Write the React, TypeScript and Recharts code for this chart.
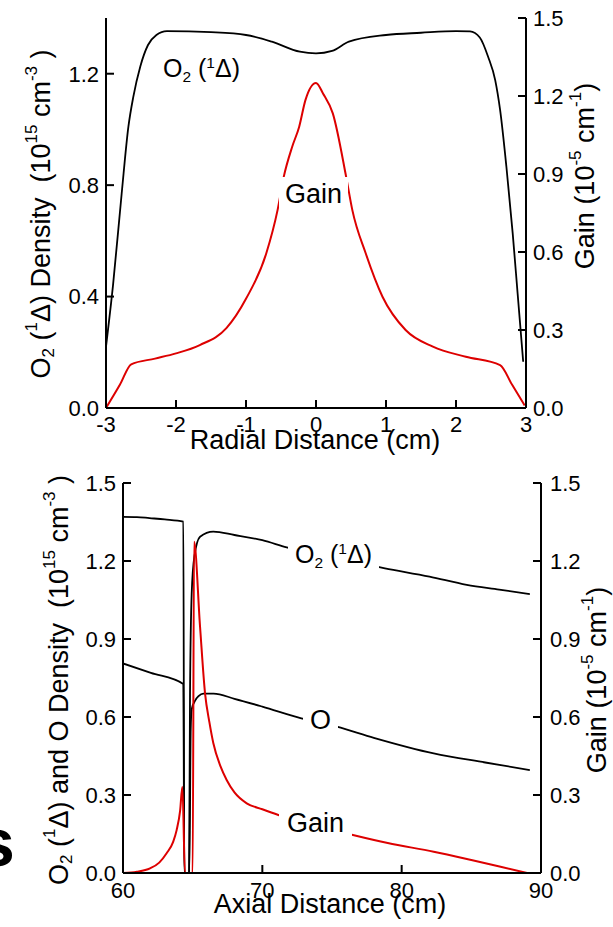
import { LineChart, Line, XAxis, YAxis } from "recharts";

const FONT = '"Liberation Sans", Arial, Helvetica, sans-serif';
const RED = "#dd0000";

// top panel: radial profile
const radialO2X = [-3, -2.9, -2.776, -2.68, -2.61, -2.51, -2.4, -2.28, -2.13, -1.5, -1.0, -0.63, -0.23, 0, 0.23, 0.47, 1.0, 1.5, 2.0, 2.2, 2.34, 2.46, 2.56, 2.63, 2.72, 2.81, 2.88, 2.96];
const radialO2 = [0.22, 0.44, 0.77, 1.01, 1.117, 1.226, 1.303, 1.339, 1.353, 1.349, 1.339, 1.315, 1.279, 1.273, 1.282, 1.315, 1.339, 1.347, 1.353, 1.352, 1.33, 1.26, 1.177, 1.07, 0.866, 0.627, 0.412, 0.166];
const radialGainX = [-3, -2.8, -2.64, -2.3, -2.0, -1.66, -1.28, -1.0, -0.71, -0.55, -0.46, -0.34, -0.24, -0.15, 0, 0.1, 0.24, 0.43, 0.52, 0.71, 0.95, 1.28, 1.67, 2.14, 2.63, 2.8, 2.98];
const radialGain = [0.0, 0.09, 0.168, 0.19, 0.21, 0.242, 0.307, 0.42, 0.595, 0.76, 0.89, 1.005, 1.082, 1.185, 1.25, 1.21, 1.133, 0.89, 0.76, 0.595, 0.428, 0.3, 0.236, 0.197, 0.165, 0.09, 0.01];
const radialTicks = [-3, -2, -1, 0, 1, 2, 3];
const o2Ticks = [0, 0.4, 0.8, 1.2];
const gainTicks = [0, 0.3, 0.6, 0.9, 1.2, 1.5];

// bottom panel: axial profile
const axialO2X = [60, 61, 61.9, 63, 64.33, 64.4, 64.74, 64.81, 64.93, 65.12, 65.53, 66.48, 68, 70, 71.75, 75, 78.8, 82, 84.67, 87, 89.2];
const axialO2 = [1.37, 1.369, 1.365, 1.36, 1.351, 0, 0, 0.69, 1.075, 1.217, 1.293, 1.313, 1.3, 1.28, 1.252, 1.215, 1.172, 1.14, 1.108, 1.09, 1.073];
const axialOX = [60, 62, 64.33, 64.4, 64.76, 64.86, 64.93, 65.2, 65.42, 65.77, 66.5, 68, 70, 72.8, 75.34, 78, 82.3, 86, 89.2];
const axialO = [0.806, 0.77, 0.727, 0, 0, 0.55, 0.63, 0.665, 0.68, 0.69, 0.69, 0.67, 0.64, 0.595, 0.563, 0.52, 0.46, 0.425, 0.396];
const axialGainX = [60, 61, 61.94, 62.6, 63.13, 63.6, 63.85, 64.1, 64.26, 64.45, 65.0, 65.1, 65.53, 65.89, 66.2, 66.48, 67.0, 67.44, 68.0, 68.88, 70, 71.15, 74, 76.5, 79, 82.3, 85, 87.1, 89.0];
const axialGain = [0, 0.005, 0.018, 0.04, 0.076, 0.12, 0.165, 0.24, 0.332, 0, 0, 1.274, 0.947, 0.69, 0.58, 0.5, 0.41, 0.358, 0.31, 0.268, 0.245, 0.223, 0.18, 0.146, 0.115, 0.082, 0.05, 0.024, 0];
const axialTicks = [60, 70, 80, 90];
const densityTicks = [0, 0.3, 0.6, 0.9, 1.2, 1.5];

const zip = (xs: number[], ys: number[]) => xs.map((x, i) => ({ x, y: ys[i] }));

const tickStyle = { fill: "#000", fontSize: 22, fontFamily: FONT };
const axisLine = { stroke: "#000", strokeWidth: 2 };
const fmt1 = (v: number) => v.toFixed(1);
const blank = () => "";

const Sub = ({ children }: any) => (
  <span style={{ fontSize: "0.62em", position: "relative", top: "0.3em" }}>{children}</span>
);
const Sup = ({ children }: any) => (
  <span style={{ fontSize: "0.62em", position: "relative", top: "-0.6em" }}>{children}</span>
);

const Tag = ({ left, top, size, padX = 0, padY = 0, children }: any) => (
  <div
    style={{
      position: "absolute",
      left: left - padX,
      top: top - padY,
      padding: `${padY}px ${padX}px`,
      fontSize: size,
      lineHeight: 1,
      fontFamily: FONT,
      background: "#fff",
      whiteSpace: "nowrap",
      color: "#000",
    }}
  >
    {children}
  </div>
);

// rotated y-axis titles with super/subscripts
const yTitle = (cx: number, cy: number, parts: [string, number][]) => () => (
  <text
    x={cx}
    y={cy}
    transform={`rotate(-90 ${cx} ${cy})`}
    textAnchor="middle"
    dominantBaseline="central"
    fontSize={27}
    fontFamily={FONT}
    fill="#000"
    style={{ whiteSpace: "pre" }}
  >
    {parts.map(([t, s], i) => {
      const prev = i > 0 ? parts[i - 1][1] : 0;
      const dy = s * 10 - prev * 10;
      return (
        <tspan key={i} dy={dy} fontSize={s === 0 ? 27 : 17}>
          {t}
        </tspan>
      );
    })}
  </text>
);

const xTitle = (text: string, x: number, y: number) => () => (
  <text x={x} y={y} textAnchor="middle" fontSize={27} fontFamily={FONT} fill="#000">
    {text}
  </text>
);

// s = 1 subscript, -1 superscript
const densityTitle: [string, number][] = [
  ["O", 0], ["2", 0.7], [" (", 0], ["1", -1], ["Δ) Density  (10", 0], ["15", -1], [" cm", 0], ["-3", -1], [" )", 0],
];
const densityOTitle: [string, number][] = [
  ["O", 0], ["2", 0.7], [" (", 0], ["1", -1], ["Δ) and O Density  (10", 0], ["15", -1], [" cm", 0], ["-3", -1], [" )", 0],
];
const gainTitle: [string, number][] = [
  ["Gain (10", 0], ["-5", -1], [" cm", 0], ["-1", -1], [")", 0],
];

const RadialChart = () => (
  <LineChart width={613} height={463} margin={{ top: 18, right: 0, bottom: 0, left: 0 }}>
    <XAxis
      dataKey="x"
      type="number"
      domain={[-3, 3]}
      ticks={radialTicks}
      height={55}
      tick={tickStyle}
      tickSize={-8}
      tickMargin={16}
      axisLine={axisLine}
      tickLine={axisLine}
      allowDataOverflow
      label={xTitle("Radial Distance (cm)", 315, 449)}
    />
    <XAxis
      xAxisId="top"
      orientation="top"
      dataKey="x"
      type="number"
      domain={[-3, 3]}
      ticks={radialTicks}
      height={0}
      tickFormatter={blank}
      tickSize={-8}
      axisLine={axisLine}
      tickLine={axisLine}
      allowDataOverflow
    />
    <YAxis
      yAxisId="left"
      type="number"
      domain={[0, 1.4]}
      ticks={o2Ticks}
      width={106}
      tick={tickStyle}
      tickFormatter={fmt1}
      tickSize={-8}
      tickMargin={15}
      axisLine={axisLine}
      tickLine={axisLine}
      allowDataOverflow
      label={yTitle(41, 214, densityTitle)}
    />
    <YAxis
      yAxisId="right"
      orientation="right"
      type="number"
      domain={[0, 1.5]}
      ticks={gainTicks}
      width={87}
      tick={tickStyle}
      tickFormatter={fmt1}
      tickSize={-8}
      tickMargin={15}
      axisLine={axisLine}
      tickLine={axisLine}
      allowDataOverflow
      label={yTitle(585, 176, gainTitle)}
    />
    <Line
      yAxisId="left"
      data={zip(radialO2X, radialO2)}
      dataKey="y"
      type="monotone"
      stroke="#000"
      strokeWidth={1.8}
      dot={false}
      isAnimationActive={false}
    />
    <Line
      yAxisId="right"
      data={zip(radialGainX, radialGain)}
      dataKey="y"
      type="monotone"
      stroke={RED}
      strokeWidth={2}
      dot={false}
      isAnimationActive={false}
    />
  </LineChart>
);

const AxialChart = () => (
  <LineChart width={613} height={464} margin={{ top: 20, right: 0, bottom: 0, left: 0 }}>
    <XAxis
      dataKey="x"
      type="number"
      domain={[60, 90]}
      ticks={axialTicks}
      height={54}
      tick={tickStyle}
      tickSize={-8}
      tickMargin={17}
      axisLine={axisLine}
      tickLine={axisLine}
      allowDataOverflow
      label={xTitle("Axial Distance (cm)", 330, 450)}
    />
    <XAxis
      xAxisId="top"
      orientation="top"
      dataKey="x"
      type="number"
      domain={[60, 90]}
      ticks={axialTicks}
      height={0}
      tickFormatter={blank}
      tickSize={-8}
      axisLine={axisLine}
      tickLine={axisLine}
      allowDataOverflow
    />
    <YAxis
      yAxisId="left"
      type="number"
      domain={[0, 1.5]}
      ticks={densityTicks}
      width={123}
      tick={tickStyle}
      tickFormatter={fmt1}
      tickSize={-8}
      tickMargin={15}
      axisLine={axisLine}
      tickLine={axisLine}
      allowDataOverflow
      label={yTitle(59, 217, densityOTitle)}
    />
    <YAxis
      yAxisId="right"
      orientation="right"
      type="number"
      domain={[0, 1.5]}
      ticks={gainTicks}
      width={72}
      tick={tickStyle}
      tickFormatter={fmt1}
      tickSize={-8}
      tickMargin={17}
      axisLine={axisLine}
      tickLine={axisLine}
      allowDataOverflow
      label={yTitle(597, 217, gainTitle)}
    />
    <Line
      yAxisId="left"
      data={zip(axialO2X, axialO2)}
      dataKey="y"
      type="monotone"
      stroke="#000"
      strokeWidth={1.8}
      dot={false}
      isAnimationActive={false}
    />
    <Line
      yAxisId="left"
      data={zip(axialOX, axialO)}
      dataKey="y"
      type="monotone"
      stroke="#000"
      strokeWidth={1.8}
      dot={false}
      isAnimationActive={false}
    />
    <Line
      yAxisId="right"
      data={zip(axialGainX, axialGain)}
      dataKey="y"
      type="monotone"
      stroke={RED}
      strokeWidth={2}
      dot={false}
      isAnimationActive={false}
    />
  </LineChart>
);

export default function App() {
  return (
    <div style={{ position: "absolute", left: 0, top: 0, width: 613, height: 927, background: "#fff", overflow: "hidden" }}>
      <div style={{ position: "absolute", left: 0, top: 0 }}>
        <RadialChart />
      </div>
      <div style={{ position: "absolute", left: 0, top: 463 }}>
        <AxialChart />
      </div>

      <Tag left={163} top={56} size={25}>
        O<Sub>2</Sub> (<Sup>1</Sup>Δ)
      </Tag>
      <Tag left={285} top={181} size={27} padX={6} padY={4}>
        Gain
      </Tag>

      <Tag left={295} top={542} size={25} padX={7} padY={4}>
        O<Sub>2</Sub> (<Sup>1</Sup>Δ)
      </Tag>
      <Tag left={310} top={707} size={27} padX={7} padY={3}>
        O
      </Tag>
      <Tag left={287} top={810} size={27} padX={8} padY={4}>
        Gain
      </Tag>

      <div
        style={{
          position: "absolute",
          left: -23,
          top: 808,
          fontSize: 68,
          lineHeight: 1,
          fontWeight: "bold",
          fontFamily: FONT,
          color: "#000",
        }}
      >
        s
      </div>
    </div>
  );
}
